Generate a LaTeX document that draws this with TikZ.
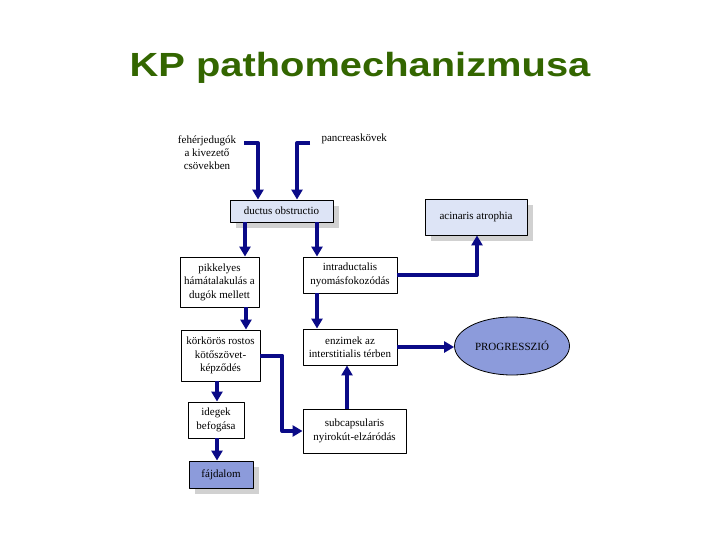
\documentclass[tikz,border=0pt]{standalone}
\usepackage{fontspec}
\setmainfont{Liberation Serif}
\newfontfamily\titlefont[FakeStretch=1.19]{Liberation Sans}
\usetikzlibrary{arrows.meta,shapes.geometric,shadows}
\definecolor{titlegreen}{RGB}{51,102,0}
\definecolor{arrowblue}{RGB}{10,10,135}
\definecolor{paleblue}{RGB}{221,228,246}
\definecolor{midblue}{RGB}{140,155,219}
\begin{document}
\begin{tikzpicture}[x=1pt, y=-1pt, font=\fontsize{11}{13.5}\selectfont, line join=round, >={Triangle[width=11pt,length=10pt]},
    box/.style={draw, line width=0.9pt, fill=white, align=center, inner sep=1pt},
    shade box/.style={box, drop shadow={shadow xshift=6pt, shadow yshift=-6pt, fill=black!18, opacity=1}},
    flow/.style={->, draw=arrowblue, line width=4pt}]
            \useasboundingbox[fill=white] (0,0) rectangle (720,540);
            \node[anchor=base, text=titlegreen, font=\titlefont\bfseries\fontsize{33.5}{36}\selectfont] (title) at (360,77) {KP pathomechanizmusa};
            \node[align=center, font=\fontsize{11}{13}\selectfont] (feher) at (207,153) {fehérjedugók\\a kivezető\\csövekben};
            \node[anchor=west] (pancr) at (318,139) {pancreaskövek};
            \node[shade box, fill=paleblue, minimum width=103, minimum height=22] (duct) at (281.5,211) {ductus obstructio};
            \node[shade box, fill=paleblue, minimum width=102, minimum height=36] (acin) at (476,217) {acinaris atrophia};
            \node[box, minimum width=79, minimum height=50] (pikk) at (219.5,282) {pikkelyes\\hámátalakulás a\\dugók mellett};
            \node[box, minimum width=94, minimum height=36] (intra) at (350,275) {intraductalis\\nyomásfokozódás};
            \node[box, minimum width=79, minimum height=51] (korkor) at (220.5,355.5) {körkörös rostos\\kötőszövet-\\képződés};
            \node[box, minimum width=94, minimum height=36] (enzim) at (350,347) {enzimek az\\interstitialis térben};
            \node[draw, ellipse, line width=0.8pt, fill=midblue, minimum width=115, minimum height=58] (progr) at (512,346) {PROGRESSZIÓ};
            \node[box, minimum width=56, minimum height=36] (ideg) at (216,420) {idegek\\befogása};
            \node[box, minimum width=103, minimum height=44] (subcap) at (354.5,431) {subcapsularis\\nyirokút-elzáródás};
            \node[shade box, fill=midblue, minimum width=64, minimum height=27] (fajd) at (221,474.5) {fájdalom};
            \coordinate (fstart) at (244,143);
            \coordinate (pstart) at (310,143);
            \draw[flow] (fstart) -| ([xshift=-23.5pt]duct.north);
            \draw[flow] (pstart) -| ([xshift=15.5pt]duct.north);
            \draw[flow] ([xshift=-36.5pt]duct.south) -- ([xshift=25.5pt]pikk.north);
            \draw[flow] ([xshift=35.5pt]duct.south) -- ([xshift=-33pt]intra.north);
            \draw[flow] ([xshift=26.5pt]pikk.south) -- ([xshift=25.5pt]korkor.north);
            \draw[flow] ([xshift=-33pt]intra.south) -- ([xshift=-33pt]enzim.north);
            \draw[flow] (intra.east) -| ([xshift=1pt]acin.south);
            \draw[flow] (enzim.east) -- (enzim.east -| progr.west);
            \draw[flow] (korkor.east) -- ++(22,0) |- (subcap.west);
            \draw[flow] ([xshift=-7.5pt]subcap.north) -- ([xshift=-3pt]enzim.south);
            \draw[flow] ([xshift=-3.5pt]korkor.south) -- ([xshift=1pt]ideg.north);
            \draw[flow] ([xshift=1pt]ideg.south) -- ([xshift=-4pt]fajd.north);
    \end{tikzpicture}
\end{document}
